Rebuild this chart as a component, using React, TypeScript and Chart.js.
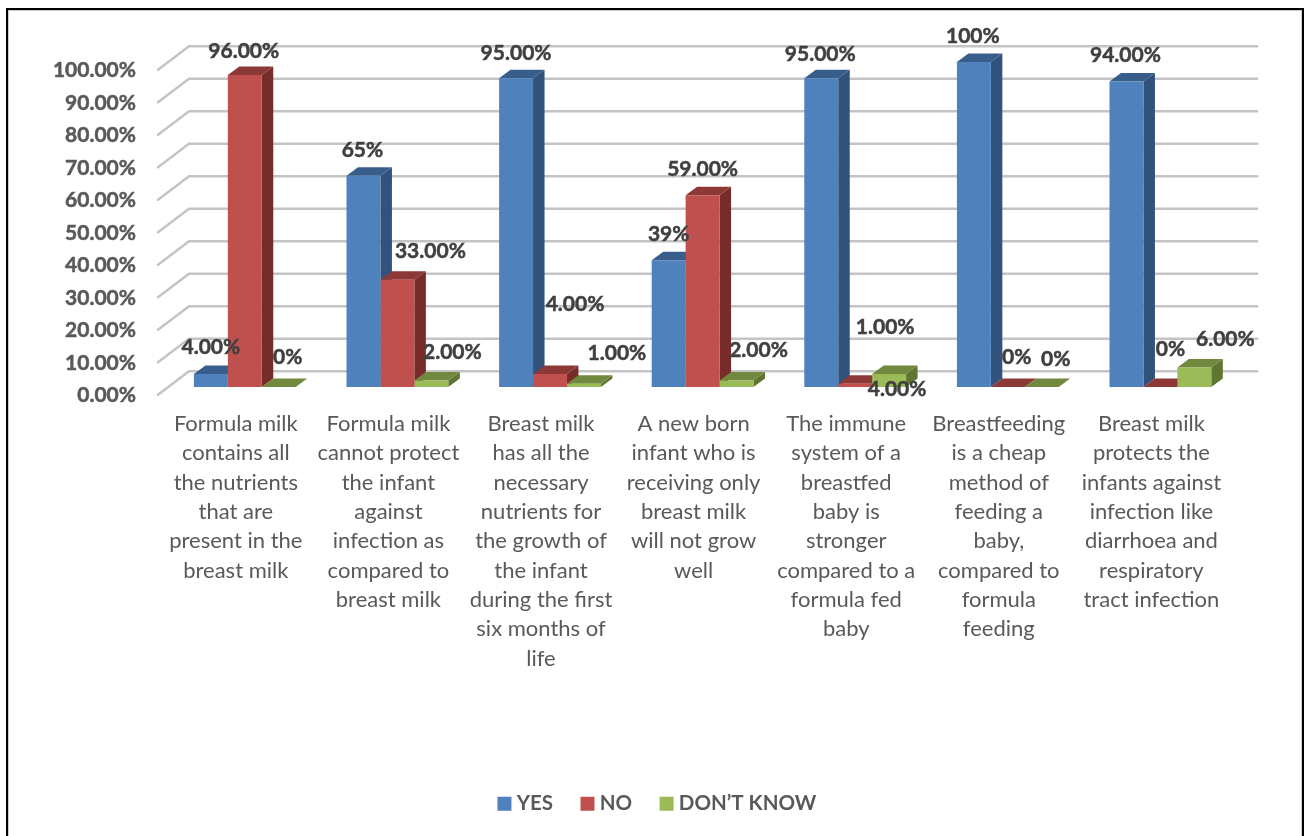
import React, { useEffect, useRef } from "react";
import { Chart, registerables } from "chart.js";

Chart.register(...registerables);

const categories: string[][] = [
  ["Formula milk", "contains all", "the nutrients", "that are", "present in the", "breast milk"],
  ["Formula milk", "cannot protect", "the infant", "against", "infection as", "compared to", "breast milk"],
  ["Breast milk", "has all the", "necessary", "nutrients for", "the growth of", "the infant", "during the first", "six months of", "life"],
  ["A new born", "infant who is", "receiving only", "breast milk", "will not grow", "well"],
  ["The immune", "system of a", "breastfed", "baby is", "stronger", "compared to a", "formula fed", "baby"],
  ["Breastfeeding", "is a cheap", "method of", "feeding a", "baby,", "compared to", "formula", "feeding"],
  ["Breast milk", "protects the", "infants against", "infection like", "diarrhoea and", "respiratory", "tract infection"],
];

const yesValues = [4, 65, 95, 39, 95, 100, 94];
const noValues = [96, 33, 4, 59, 1, 0, 0];
const dontKnowValues = [0, 2, 1, 2, 4, 0, 6];

const yesLabels = ["4.00%", "65%", "95.00%", "39%", "95.00%", "100%", "94.00%"];
const noLabels = ["96.00%", "33.00%", "4.00%", "59.00%", "1.00%", "0%", "0%"];
const dontKnowLabels = ["0%", "2.00%", "1.00%", "2.00%", "4.00%", "0%", "6.00%"];

// Label nudges relative to each bar's top centre (the original labels were hand-placed).
const yesNudge = [[0, -27], [-1, -26], [0, -25], [0, -26], [-1, -24], [-1, -26], [-1, -26]];
const noNudge = [[-1, -24], [33, -29], [25, -70], [0, -26], [30, -57], [9, -30], [10, -38]];
const dontKnowNudge = [[9, -30], [21, -28], [33, -31], [22, -30], [8, 15], [14, -28], [31, -28]];

const FONT = "Lato, 'Noto Sans', sans-serif";
const W = 1306;
const H = 836;
const AREA = { left: 168.5, right: 1236.7, top: 62, bottom: 386.7 };
const BAR_DX = 11.5;
const BAR_DY = 8.5;
const BACK = { dx: 20.5, dy: -15.7 };
const FRONT = { dx: -10.5, dy: 7.8 };

const faces = [
  { side: "#31527A", top: "#385D8A" },
  { side: "#772C2A", top: "#8C3836" },
  { side: "#5F7530", top: "#71893F" },
];
const textByDataset = [yesLabels, noLabels, dontKnowLabels];
const nudgeByDataset = [yesNudge, noNudge, dontKnowNudge];

const poly = (ctx: CanvasRenderingContext2D, pts: number[][], fill: string) => {
  ctx.beginPath();
  pts.forEach(([x, y], i) => (i ? ctx.lineTo(x, y) : ctx.moveTo(x, y)));
  ctx.closePath();
  ctx.fillStyle = fill;
  ctx.fill();
};

const threeD = {
  id: "threeD",
  afterLayout(chart: any) {
    chart.legend.left += 41;
    chart.legend.right += 41;
  },
  beforeDatasetsDraw(chart: any) {
    const { ctx, scales } = chart;
    const y = scales.y;
    ctx.save();
    ctx.strokeStyle = "#C4C4C4";
    ctx.lineWidth = 2.5;
    ctx.lineCap = "round";
    for (const t of y.ticks) {
      const py = y.getPixelForValue(t.value);
      ctx.beginPath();
      ctx.moveTo(AREA.left + FRONT.dx, py + FRONT.dy);
      ctx.lineTo(AREA.left + BACK.dx, py + BACK.dy);
      ctx.lineTo(AREA.right + BACK.dx, py + BACK.dy);
      ctx.stroke();
    }
    chart.data.datasets.forEach((_: any, d: number) => {
      const f = faces[d];
      chart.getDatasetMeta(d).data.forEach((bar: any) => {
        const half = bar.width / 2;
        const l = bar.x - half;
        const r = bar.x + half;
        const t = bar.y;
        const b = bar.base;
        poly(ctx, [[r, t], [r + BAR_DX, t - BAR_DY], [r + BAR_DX, b - BAR_DY], [r, b]], f.side);
        poly(ctx, [[l, t], [l + BAR_DX, t - BAR_DY], [r + BAR_DX, t - BAR_DY], [r, t]], f.top);
      });
    });
    ctx.restore();
  },
  afterDatasetsDraw(chart: any) {
    const { ctx } = chart;
    ctx.save();
    ctx.font = `bold 21px ${FONT}`;
    ctx.fillStyle = "#404040";
    ctx.strokeStyle = "#404040";
    ctx.lineWidth = 0.5;
    ctx.textAlign = "center";
    ctx.textBaseline = "middle";
    chart.data.datasets.forEach((_: any, d: number) => {
      chart.getDatasetMeta(d).data.forEach((bar: any, i: number) => {
        const [nx, ny] = nudgeByDataset[d][i];
        ctx.strokeText(textByDataset[d][i], bar.x + nx, bar.y + ny);
        ctx.fillText(textByDataset[d][i], bar.x + nx, bar.y + ny);
      });
    });
    ctx.restore();
  },
};

export default function App() {
  const ref = useRef<HTMLCanvasElement>(null);
  useEffect(() => {
    const chart = new Chart(ref.current!, {
      type: "bar",
      data: {
        labels: categories as any,
        datasets: [
          { label: "YES", data: yesValues, backgroundColor: "#4F81BD" },
          { label: "NO", data: noValues, backgroundColor: "#C0504D" },
          { label: "DON’T KNOW", data: dontKnowValues, backgroundColor: "#9BBB59" },
        ],
      },
      options: {
        responsive: false,
        animation: false,
        layout: { padding: { left: 0, right: W - AREA.right, top: AREA.top, bottom: 12 } },
        datasets: { bar: { categoryPercentage: 0.667, barPercentage: 1 } },
        scales: {
          x: {
            grid: { display: false, drawTicks: false },
            border: { display: false },
            afterFit: (s: any) => {
              s.height = 374;
            },
            ticks: {
              autoSkip: false,
              maxRotation: 0,
              minRotation: 0,
              padding: 22,
              labelOffset: -9,
              color: "#595959",
              font: { family: FONT, size: 22, lineHeight: 1.335 },
            },
          },
          y: {
            min: 0,
            max: 100,
            grid: { display: false, drawTicks: false },
            border: { display: false },
            afterFit: (s: any) => {
              s.width = AREA.left;
            },
            ticks: {
              stepSize: 10,
              padding: 32.5,
              labelOffset: 8.5,
              color: "#595959",
              textStrokeColor: "#595959",
              textStrokeWidth: 0.5,
              font: { family: FONT, size: 21, weight: "bold" },
              callback: (v: any) => Number(v).toFixed(2) + "%",
            },
          },
        },
        plugins: {
          title: { display: false },
          tooltip: { enabled: false },
          legend: {
            position: "bottom",
            labels: {
              boxWidth: 4,
              boxHeight: 4,
              padding: 32.5,
              color: "#595959",
              font: { family: FONT, size: 20.5, weight: "bold" },
              generateLabels: (c: any) =>
                c.data.datasets.map((ds: any, i: number) => ({
                  text: ds.label,
                  fillStyle: ds.backgroundColor,
                  strokeStyle: ds.backgroundColor,
                  lineWidth: 10,
                  datasetIndex: i,
                  fontColor: "#595959",
                })),
            },
          },
        },
      },
      plugins: [threeD],
    } as any);
    return () => chart.destroy();
  }, []);
  return (
    <div style={{ position: "absolute", left: 0, top: 0, width: W, height: H, overflow: "hidden", background: "#fff" }}>
      <canvas ref={ref} width={W} height={H} style={{ position: "absolute", left: 0, top: 0 }} />
      <div style={{ position: "absolute", left: 6, top: 8, width: 1294, height: 840, border: "2px solid #000", boxShadow: "inset 0 0 0 1px #ccc" }} />
    </div>
  );
}
